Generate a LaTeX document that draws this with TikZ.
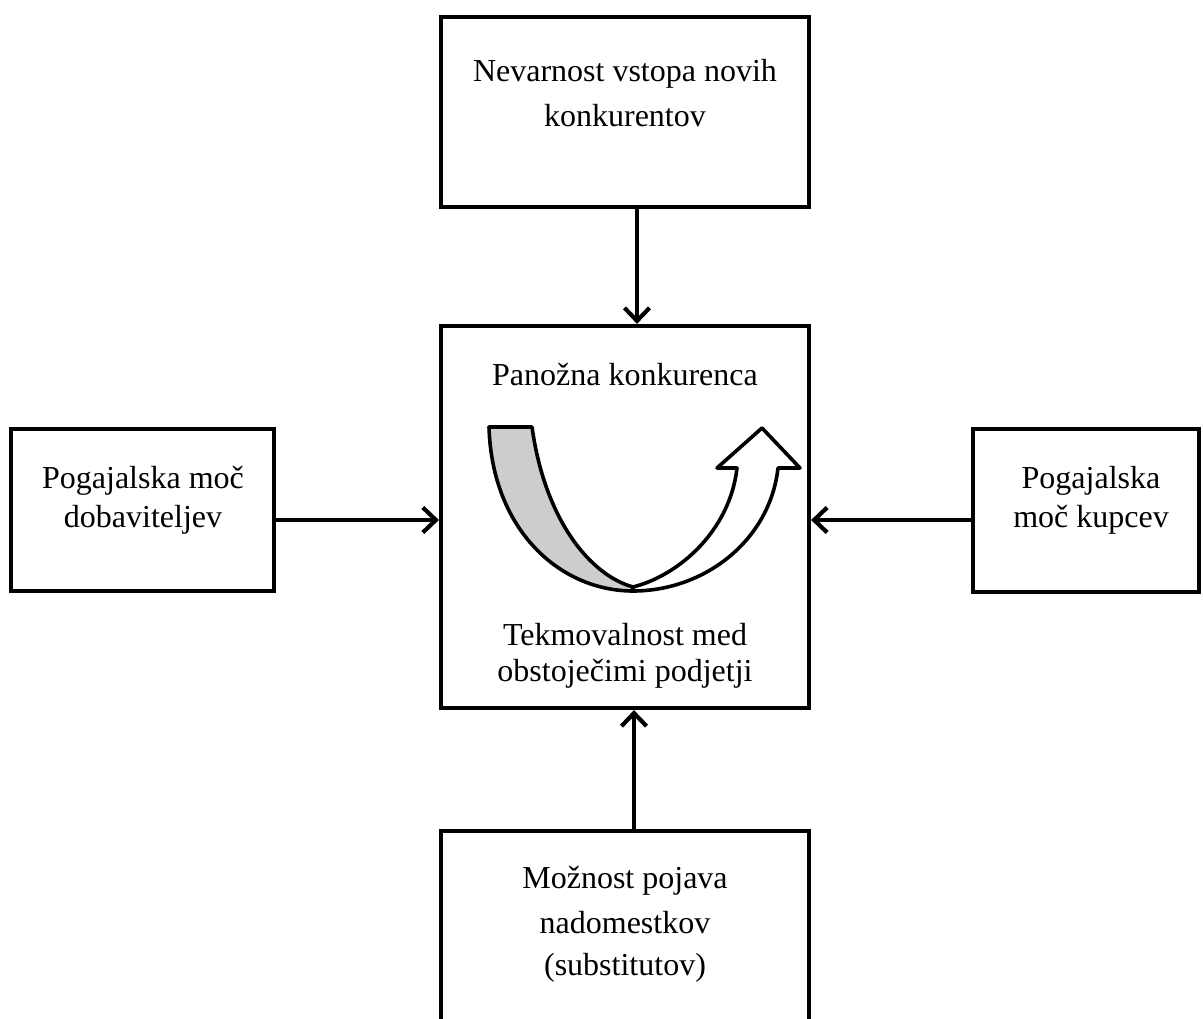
\documentclass[tikz,border=0pt]{standalone}
\usepackage{fontspec}
\setmainfont{Liberation Serif}
\usetikzlibrary{arrows.meta}
\definecolor{bandgray}{HTML}{CDCDCD}
\begin{document}
\begin{tikzpicture}[x=1pt,y=-1pt,
  box/.style={draw, line width=4.2pt, inner sep=0pt, fill=white},
  lbl/.style={anchor=base, font=\fontsize{32}{38}\selectfont, inner sep=0pt},
  arr/.style={line width=4.2pt, -{Straight Barb[length=13pt,width=25pt]}},
  uband/.style={line width=3.6pt, line join=round}]
\useasboundingbox (0,0) rectangle (1203,1019);
\clip (0,0) rectangle (1203,1019);

% boxes
\node[box, minimum width=368pt, minimum height=190pt] (top) at (625,112) {};
\node[box, minimum width=368pt, minimum height=382pt] (ctr) at (625,517) {};
\node[box, minimum width=263pt, minimum height=162pt] (left) at (142.5,510) {};
\node[box, minimum width=226pt, minimum height=163pt] (right) at (1086,510.5) {};
\node[box, minimum width=368pt, minimum height=209pt] (bot) at (625,935.5) {};

% helper coordinates for connector lines
\coordinate (vx1) at (637,0);
\coordinate (vx2) at (634,0);
\coordinate (hy) at (0,520);

% connectors
\draw[arr] (top.south -| vx1) -- (ctr.north -| vx1);
\draw[arr] (bot.north -| vx2) -- (ctr.south -| vx2);
\draw[arr] (left.east |- hy) -- (ctr.west |- hy);
\draw[arr] (right.west |- hy) -- (ctr.east |- hy);

% texts
\node[lbl] (t1) at (625,82) {Nevarnost vstopa novih};
\node[lbl] (t2) at (625,127) {konkurentov};
\node[lbl] (c1) at (625,385) {Panožna konkurenca};
\node[lbl] (c2) at (625,645) {Tekmovalnost med};
\node[lbl] (c3) at (625,681) {obstoječimi podjetji};
\node[lbl] (l1) at (143,488) {Pogajalska moč};
\node[lbl] (l2) at (143,527) {dobaviteljev};
\node[lbl] (r1) at (1091,488) {Pogajalska};
\node[lbl] (r2) at (1091,527) {moč kupcev};
\node[lbl] (b1) at (625,888) {Možnost pojava};
\node[lbl] (b2) at (625,933) {nadomestkov};
\node[lbl] (b3) at (625,975) {(substitutov)};

% U-turn arrow
\draw[uband, fill=bandgray] (489,427) -- (532,427)
  .. controls (545,520) and (590,575) .. (633,587)
  -- (633,591)
  .. controls (560,591) and (492,530) .. (489,427) -- cycle;
\draw[uband, fill=white] (633,587)
  .. controls (680,575) and (730,530) .. (737,468)
  -- (717,468) -- (762,428) -- (800,468) -- (778,468)
  .. controls (770,540) and (705,591) .. (633,591) -- cycle;
\end{tikzpicture}
\end{document}
